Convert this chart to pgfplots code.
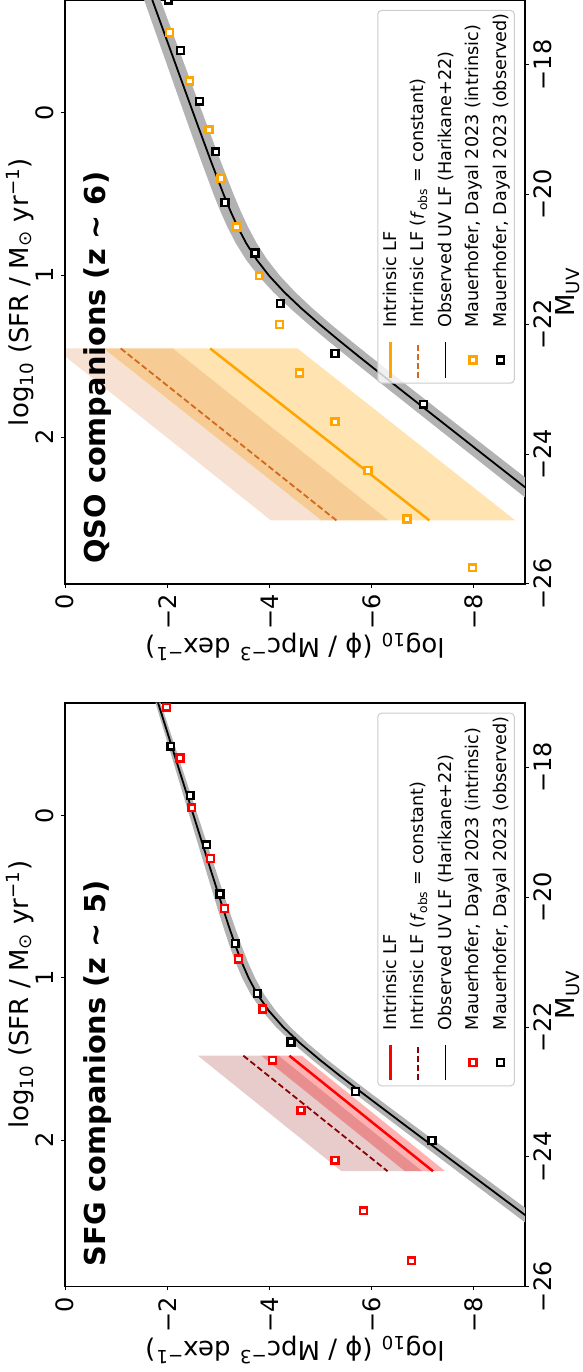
\documentclass[border=0pt]{standalone}
\usepackage{fontspec}
\setmainfont{DejaVu Sans}
\usepackage{graphicx}
\usepackage{pgfplots}
\pgfplotsset{compat=1.18}
\usepackage{pgfplotstable}
\usepgfplotslibrary{fillbetween}

\definecolor{mplorange}{RGB}{255,165,0}
\definecolor{chocolate}{RGB}{210,105,30}
\definecolor{darkred}{RGB}{139,0,0}
\definecolor{bandgray}{RGB}{178,178,178}
\definecolor{legedge}{RGB}{204,204,204}

% Observed UV LF (Harikane+22), z~6, with uncertainty band
\pgfplotstableread{
M phi up lo
-17.00 -1.708 -1.548 -1.868
-17.50 -1.938 -1.772 -2.104
-18.00 -2.168 -1.996 -2.340
-18.50 -2.398 -2.220 -2.576
-19.00 -2.629 -2.445 -2.813
-19.50 -2.863 -2.673 -3.053
-20.00 -3.105 -2.909 -3.301
-20.25 -3.236 -3.037 -3.435
-20.50 -3.380 -3.178 -3.582
-20.75 -3.547 -3.342 -3.752
-21.00 -3.748 -3.540 -3.956
-21.25 -3.994 -3.783 -4.205
-21.50 -4.287 -4.073 -4.501
-21.75 -4.621 -4.404 -4.838
-22.00 -4.985 -4.765 -5.205
-22.25 -5.367 -5.144 -5.590
-22.50 -5.759 -5.533 -5.985
-23.00 -6.560 -6.328 -6.792
-23.50 -7.367 -7.129 -7.605
-24.00 -8.176 -7.932 -8.420
-24.50 -8.986 -8.736 -9.236
-25.00 -9.796 -9.540 -10.052
-25.50 -10.606 -10.344 -10.868
}\qsocurve

% Observed UV LF (Harikane+22), z~5, with uncertainty band
\pgfplotstableread{
M phi up lo
-17.00 -1.820 -1.770 -1.870
-17.50 -2.020 -1.961 -2.079
-18.00 -2.220 -2.152 -2.288
-18.50 -2.420 -2.343 -2.497
-19.00 -2.620 -2.534 -2.706
-19.50 -2.820 -2.725 -2.915
-20.00 -3.022 -2.918 -3.126
-20.25 -3.124 -3.016 -3.233
-20.50 -3.229 -3.116 -3.342
-20.75 -3.338 -3.221 -3.456
-21.00 -3.458 -3.336 -3.580
-21.25 -3.597 -3.471 -3.724
-21.50 -3.768 -3.637 -3.899
-21.75 -3.990 -3.855 -4.126
-22.00 -4.270 -4.130 -4.410
-22.25 -4.605 -4.461 -4.750
-22.50 -4.980 -4.831 -5.129
-22.75 -5.380 -5.227 -5.534
-23.00 -5.792 -5.634 -5.950
-23.50 -6.633 -6.466 -6.800
-24.00 -7.481 -7.305 -7.657
-24.50 -8.330 -8.145 -8.515
-25.00 -9.180 -8.986 -9.374
-25.50 -10.030 -9.827 -10.233
}\sfgcurve

\pgfplotstableread{
M phi
-17.50 -2.04
-18.25 -2.44
-19.00 -2.82
-19.75 -3.05
-20.50 -3.36
-21.25 -3.80
-22.00 -4.20
-22.75 -4.59
-23.50 -5.28
-24.25 -5.93
-25.00 -6.69
-25.75 -7.97
}\qsointr

\pgfplotstableread{
M phi
-17.00 -2.02
-17.78 -2.26
-18.56 -2.63
-19.34 -2.95
-20.12 -3.13
-20.90 -3.72
-21.68 -4.21
-22.45 -5.28
-23.23 -7.01
}\qsoobs

\pgfplotstableread{
M phi
-17.07 -1.99
-17.85 -2.25
-18.62 -2.48
-19.40 -2.85
-20.17 -3.12
-20.95 -3.39
-21.72 -3.87
-22.51 -4.06
-23.28 -4.62
-24.05 -5.28
-24.83 -5.84
-25.60 -6.78
}\sfgintr

\pgfplotstableread{
M phi
-17.67 -2.07
-18.43 -2.45
-19.19 -2.77
-19.95 -3.03
-20.71 -3.33
-21.48 -3.76
-22.23 -4.42
-22.99 -5.68
-23.75 -7.18
}\sfgobs

\newcommand{\legtxt}[1]{\rotatebox{90}{\rule[-2.1pt]{0pt}{9pt}#1}}

\pgfplotsset{
  panel/.style={
    scale only axis, width=230pt, height=292pt, anchor=south west,
    xmin=-9, xmax=0, x dir=reverse, ymin=-26, ymax=-17,
    axis line style={line width=0.8pt},
    tick align=outside, major tick length=1.9pt,
    every tick/.style={black, line width=0.5pt},
    xtick={-8,-6,-4,-2,0}, xticklabels={−8,−6,−4,−2,0},
    ytick={-26,-24,-22,-20,-18}, yticklabels={−26,−24,−22,−20,−18},
    xtick pos=lower, ytick pos=right,
    ticklabel style={font=\fontsize{12}{14}\selectfont, inner sep=0pt},
    xticklabel style={rotate=90, anchor=east},
    yticklabel style={rotate=90, anchor=north},
    xticklabel shift=3pt, yticklabel shift=2pt,
    xlabel={log\textsubscript{10} (ϕ / Mpc\textsuperscript{−3} dex\textsuperscript{−1})},
    ylabel={M\textsubscript{UV}},
    every axis x label/.style={at={(axis description cs:0.5,0)}, yshift=-31.5pt, anchor=center, rotate=180, font=\fontsize{13}{15}\selectfont},
    every axis y label/.style={at={(axis description cs:1,0.5)}, xshift=15pt, anchor=north, inner sep=0pt, rotate=90, font=\fontsize{13}{15}\selectfont},
    legend columns=5,
    legend style={
      at={(0.978,0.983)}, anchor=north east,
      font=\fontsize{8.8}{10}\selectfont,
      draw=legedge, line width=0.5pt, rounded corners=2pt,
      fill=white, fill opacity=0.8, text opacity=1, draw opacity=1,
      inner xsep=2pt, inner ysep=1.5pt,
      nodes={inner sep=0pt, text depth=0pt},
      cells={anchor=south west},
      /tikz/every even column/.append style={column sep=4.2pt},
    },
  },
  sfrpanel/.style={
    scale only axis, width=230pt, height=292pt, anchor=south west,
    xmin=0, xmax=1, ymin=-26, ymax=-17,
    axis y line*=left, axis x line=none,
    axis line style={line width=0.8pt},
    tick align=outside, major tick length=1.9pt,
    every tick/.style={black, line width=0.5pt},
    ytick={-23.74,-21.24,-18.74}, yticklabels={2,1,0},
    ticklabel style={font=\fontsize{12}{14}\selectfont, inner sep=0pt},
    yticklabel style={rotate=90, anchor=south},
    yticklabel shift=3.5pt,
    ylabel={log\textsubscript{10} (SFR / M\textsubscript{⊙} yr\textsuperscript{−1})},
    every axis y label/.style={at={(axis description cs:0,0.5)}, xshift=-22.5pt, anchor=center, rotate=90, font=\fontsize{13}{15}\selectfont},
  },
  sq/.style={only marks, mark=square*, mark size=1.72pt, line width=1.2pt, mark options={fill=white}},
  legline/.style={legend image code/.code={\path (0pt,0pt) (0pt,-25.9pt); \draw[overlay,#1] (4.2pt,-24.9pt) -- (4.2pt,-7.1pt);}},
  legmark/.style={legend image code/.code={\path (0pt,0pt) (0pt,-25.9pt); \draw[overlay,#1,line width=1.2pt] plot[mark=square*, mark size=1.72pt, only marks, mark options={fill=white}] coordinates {(4.2pt,-16pt)};}},
}

\begin{document}
\begin{tikzpicture}
% ---------------- QSO panel (top) ----------------
\begin{axis}[panel, at={(32.5pt,394pt)}]
\addlegendimage{legline={mplorange, line width=1.25pt}}\addlegendentry{\legtxt{Intrinsic LF}}
\addlegendimage{legline={chocolate, line width=0.9pt, dash pattern=on 3pt off 1.5pt}}\addlegendentry{\legtxt{Intrinsic LF (\textit{f}\textsubscript{obs} = constant)}}
\addlegendimage{legline={black, line width=0.9pt}}\addlegendentry{\legtxt{Observed UV LF (Harikane+22)}}
\addlegendimage{legmark={mplorange}}\addlegendentry{\legtxt{Mauerhofer, Dayal 2023 (intrinsic)}}
\addlegendimage{legmark={black}}\addlegendentry{\legtxt{Mauerhofer, Dayal 2023 (observed)}}
\addplot[forget plot, draw=none, fill=mplorange, fill opacity=0.3] coordinates {(-0.76,-22.37) (-5.02,-25.02) (-8.81,-25.02) (-4.55,-22.37)};
\addplot[forget plot, draw=none, fill=chocolate, fill opacity=0.2] coordinates {(0.19,-22.37) (-4.03,-25.02) (-6.33,-25.02) (-2.11,-22.37)};
\addplot[forget plot, draw=none, name path=qu] table[x=up,y=M]{\qsocurve};
\addplot[forget plot, draw=none, name path=ql] table[x=lo,y=M]{\qsocurve};
\addplot[forget plot, fill=bandgray, draw=none] fill between[of=qu and ql];
\addplot[forget plot, black, line width=0.9pt] table[x=phi,y=M]{\qsocurve};
\addplot[forget plot, mplorange, line width=1.25pt] coordinates {(-2.84,-22.37) (-7.13,-25.02)};
\addplot[forget plot, chocolate, line width=0.9pt, dash pattern=on 3pt off 1.5pt] coordinates {(-1.09,-22.37) (-5.31,-25.02)};
\addplot[forget plot, sq, mplorange] table[x=phi,y=M]{\qsointr};
\addplot[forget plot, sq, black] table[x=phi,y=M]{\qsoobs};
\node[xshift=9pt, yshift=10pt, rotate=90, anchor=north west, inner sep=0pt, font=\bfseries\fontsize{14.4}{17}\selectfont] at (rel axis cs:0,0) {QSO companions (z \textasciitilde\ 6)};
\end{axis}
\begin{axis}[sfrpanel, at={(32.5pt,394pt)}]
\end{axis}
% ---------------- SFG panel (bottom) ----------------
\begin{axis}[panel, at={(32.5pt,42.65pt)}]
\addlegendimage{legline={red, line width=1.25pt}}\addlegendentry{\legtxt{Intrinsic LF}}
\addlegendimage{legline={darkred, line width=0.9pt, dash pattern=on 3pt off 1.5pt}}\addlegendentry{\legtxt{Intrinsic LF (\textit{f}\textsubscript{obs} = constant)}}
\addlegendimage{legline={black, line width=0.9pt}}\addlegendentry{\legtxt{Observed UV LF (Harikane+22)}}
\addlegendimage{legmark={red}}\addlegendentry{\legtxt{Mauerhofer, Dayal 2023 (intrinsic)}}
\addlegendimage{legmark={black}}\addlegendentry{\legtxt{Mauerhofer, Dayal 2023 (observed)}}
\addplot[forget plot, draw=none, fill=red, fill opacity=0.3] coordinates {(-3.84,-22.44) (-6.65,-24.22) (-7.44,-24.22) (-4.63,-22.44)};
\addplot[forget plot, draw=none, fill=darkred, fill opacity=0.2] coordinates {(-2.60,-22.44) (-5.41,-24.22) (-6.99,-24.22) (-4.18,-22.44)};
\addplot[forget plot, draw=none, name path=su] table[x=up,y=M]{\sfgcurve};
\addplot[forget plot, draw=none, name path=sl] table[x=lo,y=M]{\sfgcurve};
\addplot[forget plot, fill=bandgray, draw=none] fill between[of=su and sl];
\addplot[forget plot, black, line width=0.9pt] table[x=phi,y=M]{\sfgcurve};
\addplot[forget plot, red, line width=1.25pt] coordinates {(-4.39,-22.44) (-7.20,-24.22)};
\addplot[forget plot, darkred, line width=0.9pt, dash pattern=on 3pt off 1.5pt] coordinates {(-3.49,-22.44) (-6.31,-24.22)};
\addplot[forget plot, sq, red] table[x=phi,y=M]{\sfgintr};
\addplot[forget plot, sq, black] table[x=phi,y=M]{\sfgobs};
\node[xshift=9pt, yshift=10pt, rotate=90, anchor=north west, inner sep=0pt, font=\bfseries\fontsize{14.4}{17}\selectfont] at (rel axis cs:0,0) {SFG companions (z \textasciitilde\ 5)};
\end{axis}
\begin{axis}[sfrpanel, at={(32.5pt,42.65pt)}]
\end{axis}
\pgfresetboundingbox
\path[use as bounding box] (0,0) rectangle (291.5pt,686pt);
\end{tikzpicture}
\end{document}
